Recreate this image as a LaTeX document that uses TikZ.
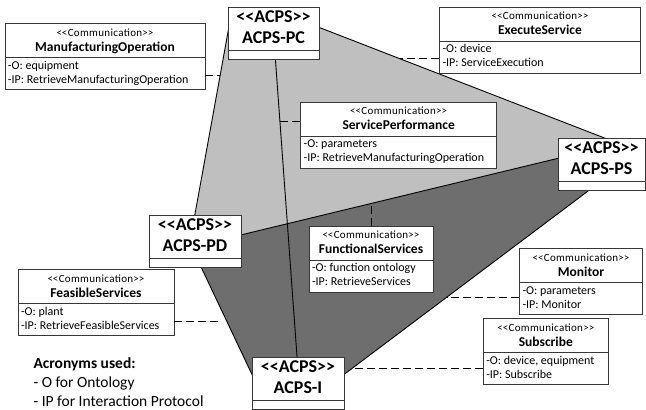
\documentclass[tikz,border=0pt]{standalone}
\usepackage{fontspec}
\setmainfont{Carlito}
\usepackage{tikz}
\usetikzlibrary{positioning}
\usetikzlibrary{shapes.multipart}
\newcommand*{\stereo}[1]{<\kern0pt<#1>\kern0pt>}
\newcommand*{\acpshead}[1]{\begin{tabular}{@{}c@{}}\stereo{ACPS}\\#1\end{tabular}}
\newcommand*{\commhead}[1]{{\fontsize{10}{15}\selectfont\begin{tabular}{@{}c@{}}{\fontsize{11}{12}\selectfont\addfontfeature{LetterSpace=3}\stereo{Communication}}\\{\fontsize{13.5}{15}\selectfont\bfseries #1}\end{tabular}}}
\newcommand*{\commattr}[2]{{\fontsize{12}{14}\selectfont\begin{tabular}{@{}l@{}}-O: #1\\-IP: #2\end{tabular}}}
\definecolor{facelight}{RGB}{191,191,191}
\definecolor{facedark}{RGB}{110,110,110}
\definecolor{boxline}{RGB}{55,55,55}

\begin{document}
\begin{tikzpicture}[x=1pt,y=-1pt]
        \tikzset{comm/.style={rectangle split,rectangle split parts=2,rectangle split part align={center,left},draw=boxline,line width=0.9pt,fill=white,inner xsep=3pt,inner ysep=1.5pt,anchor=north}}
        \tikzset{acps/.style={rectangle split,rectangle split parts=2,rectangle split empty part height=7pt,draw=boxline,line width=0.9pt,fill=white,inner xsep=2pt,inner ysep=0.5pt,anchor=north,font=\fontsize{18}{20.5}\selectfont\bfseries}}
        \tikzset{facet/.style={line width=0.9pt}}
        \tikzset{assoc/.style={line width=1pt,dash pattern=on 8pt off 4pt}}

        \useasboundingbox (0,0) rectangle (646,410);

        % corners of the faces, hidden under the ACPS boxes
        \coordinate (pcL) at (232,10);
        \coordinate (pcR) at (300,20);
        \coordinate (pcB) at (274,40);
        \coordinate (psT) at (620,144);
        \coordinate (psL) at (580,153);
        \coordinate (psB) at (612,173);
        \coordinate (pdT) at (193,225);
        \coordinate (pdR) at (220,240);
        \coordinate (pdB) at (193,250);
        \coordinate (iT)  at (298,370);
        \coordinate (iL)  at (257,385);
        \coordinate (iR)  at (330,385);

        \fill[facelight] (pcL) -- (pcR) -- (psT) -- (psL) -- (pdR) -- (pdT) -- cycle;
        \fill[facedark] (pdR) -- (psL) -- (psB) -- (iR) -- (iL) -- (pdB) -- cycle;
        \draw[facet] (pcL) -- (pdT);
        \draw[facet] (pcR) -- (psT);
        \draw[facet] (pdR) -- (psL);
        \draw[facet] (psB) -- (iR);
        \draw[facet] (iL) -- (pdB);
        \draw[facet] (pcB) -- (iT);

        \node[acps,minimum width=91pt] (PC) at (273.5,7)  {\acpshead{ACPS-PC}\nodepart{second}};
        \node[acps,minimum width=87pt] (PS) at (601.5,138) {\acpshead{ACPS-PS}\nodepart{second}};
        \node[acps,minimum width=92pt] (PD) at (195,215)   {\acpshead{ACPS-PD}\nodepart{second}};
        \node[acps,minimum width=92pt] (I)  at (298,357)   {\acpshead{ACPS-I}\nodepart{second}};

        \node[comm,minimum width=200pt] (MO)  at (105,23.3)  {\commhead{ManufacturingOperation}\nodepart{second}\commattr{equipment}{RetrieveManufacturingOperation}};
        \node[comm,minimum width=201pt] (ES)  at (540,6.7)   {\commhead{ExecuteService}\nodepart{second}\commattr{device}{ServiceExecution}};
        \node[comm,minimum width=196pt] (SP)  at (398.7,101.7) {\commhead{ServicePerformance}\nodepart{second}\commattr{parameters}{RetrieveManufacturingOperation}};
        \node[comm,minimum width=124pt] (FS)  at (371,225.7) {\commhead{FunctionalServices}\nodepart{second}\commattr{function ontology}{RetrieveServices}};
        \node[comm,minimum width=156pt] (FSV) at (96,269.3)  {\commhead{FeasibleServices}\nodepart{second}\commattr{plant}{RetrieveFeasibleServices}};
        \node[comm,minimum width=123pt] (MON) at (581,248.3) {\commhead{Monitor}\nodepart{second}\commattr{parameters}{Monitor}};
        \node[comm,minimum width=125pt] (SUB) at (545.8,318.3) {\commhead{Subscribe}\nodepart{second}\commattr{device, equipment}{Subscribe}};

        \node[anchor=west,align=left,font=\fontsize{15.5}{19.3}\selectfont] (acro) at (30,382) {\textbf{Acronyms used:}\\- O for Ontology\\- IP for Interaction Protocol};

        % where the associations meet the faces
        \coordinate (moEnd)  at (220,75);
        \coordinate (esEnd)  at (399,58);
        \coordinate (spEnd)  at (280,121);
        \coordinate (fsEnd)  at (371,204);
        \coordinate (fsvEnd) at (222,321);
        \coordinate (monEnd) at (447,297);
        \coordinate (subEnd) at (353,368);

        \draw[assoc] (MO.east |- moEnd) -- (moEnd);
        \draw[assoc] (ES.west |- esEnd) -- (esEnd);
        \draw[assoc] (SP.west |- spEnd) -- (spEnd);
        \draw[assoc] (FS.north) -- (fsEnd);
        \draw[assoc] (FSV.east |- fsvEnd) -- (fsvEnd);
        \draw[assoc] (MON.west |- monEnd) -- (monEnd);
        \draw[assoc] (SUB.west |- subEnd) -- (subEnd);
    \end{tikzpicture}
\end{document}
